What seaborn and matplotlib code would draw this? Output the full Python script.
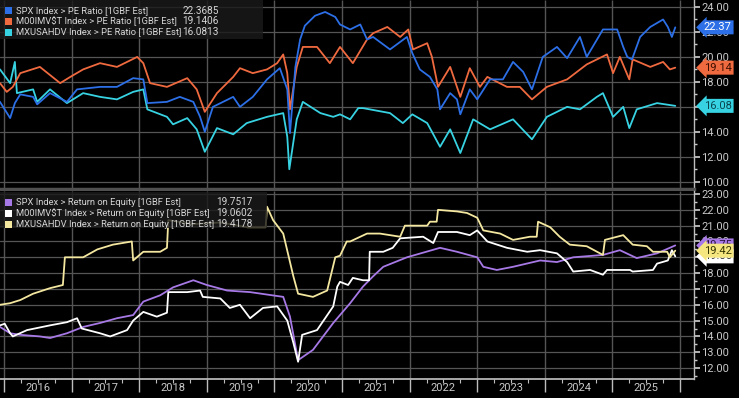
import numpy as np
import pandas as pd
import matplotlib
matplotlib.use("Agg")
import matplotlib.pyplot as plt
import matplotlib.transforms as mtrans
from matplotlib.patches import Rectangle
import seaborn as sns

# ---------------- data (decimal years, values) ----------------
spx_pe_t = [2015.94, 2016.09, 2016.16, 2016.24, 2016.43, 2016.49, 2016.68, 2016.93, 2017.08, 2017.42,
            2017.67, 2017.91, 2018.06, 2018.12, 2018.41, 2018.60, 2018.80, 2018.90, 2018.97, 2019.09,
            2019.39, 2019.49, 2019.68, 2019.89, 2020.08, 2020.19, 2020.23, 2020.31, 2020.38, 2020.45,
            2020.60, 2020.75, 2020.90, 2020.97, 2021.12, 2021.27, 2021.37, 2021.46, 2021.71, 2021.96,
            2022.04, 2022.15, 2022.30, 2022.41, 2022.45, 2022.60, 2022.70, 2022.75, 2022.89, 2023.00,
            2023.19, 2023.38, 2023.53, 2023.68, 2023.81, 2023.97, 2024.18, 2024.33, 2024.52, 2024.62,
            2024.86, 2025.07, 2025.16, 2025.22, 2025.29, 2025.41, 2025.56, 2025.75, 2025.82, 2025.88,
            2025.93]
spx_pe_v = [16.4, 15.1, 16.3, 17.0, 16.8, 16.2, 17.1, 16.4, 17.4, 17.6,
            17.6, 18.3, 18.2, 16.3, 16.4, 16.8, 16.4, 15.2, 14.0, 16.0,
            16.8, 16.0, 16.8, 18.2, 19.1, 17.4, 13.9, 19.2, 21.4, 22.5,
            23.3, 23.6, 23.2, 22.6, 22.2, 22.6, 21.4, 21.6, 20.6, 21.6,
            20.3, 19.0, 18.4, 17.4, 15.8, 17.1, 16.6, 15.4, 17.4, 16.6,
            18.2, 18.2, 19.6, 18.8, 17.4, 20.0, 20.8, 19.9, 21.6, 20.0,
            22.2, 22.2, 20.8, 20.0, 19.8, 21.6, 22.4, 23.0, 22.4, 21.6,
            22.37]

mv_pe_t = [2015.94, 2016.04, 2016.13, 2016.24, 2016.53, 2016.83, 2016.98, 2017.17, 2017.42, 2017.67,
           2017.97, 2018.06, 2018.16, 2018.41, 2018.71, 2018.85, 2018.97, 2019.15, 2019.39, 2019.49,
           2019.68, 2019.89, 2020.04, 2020.13, 2020.19, 2020.23, 2020.33, 2020.42, 2020.63, 2020.82,
           2020.97, 2021.16, 2021.37, 2021.46, 2021.67, 2021.86, 2021.98, 2022.05, 2022.26, 2022.33,
           2022.42, 2022.60, 2022.75, 2022.89, 2023.04, 2023.15, 2023.44, 2023.63, 2023.81, 2024.03,
           2024.33, 2024.62, 2024.92, 2025.01, 2025.11, 2025.25, 2025.30, 2025.56, 2025.75, 2025.85,
           2025.93]
mv_pe_v = [17.9, 17.2, 17.6, 18.7, 19.2, 17.9, 18.4, 19.0, 19.5, 19.2,
           20.0, 19.5, 17.9, 17.6, 18.3, 17.4, 15.6, 17.1, 18.4, 19.1,
           18.7, 19.0, 19.5, 20.2, 18.7, 15.8, 19.2, 20.8, 20.8, 19.5,
           20.8, 19.5, 21.4, 21.9, 22.4, 21.6, 22.2, 20.6, 21.1, 20.0,
           17.6, 19.2, 16.8, 19.1, 17.6, 18.4, 17.6, 17.6, 16.6, 17.6,
           18.2, 19.4, 20.2, 18.7, 20.0, 18.2, 19.8, 19.2, 19.6, 19.0,
           19.14]

hdv_pe_t = [2015.94, 2016.09, 2016.16, 2016.19, 2016.43, 2016.49, 2016.68, 2016.93, 2017.17, 2017.42,
            2017.67, 2017.91, 2018.06, 2018.12, 2018.41, 2018.50, 2018.71, 2018.85, 2018.97, 2019.15,
            2019.39, 2019.59, 2019.89, 2020.13, 2020.19, 2020.22, 2020.33, 2020.42, 2020.68, 2020.87,
            2020.97, 2021.12, 2021.24, 2021.31, 2021.71, 2021.90, 2022.04, 2022.26, 2022.45, 2022.60,
            2022.75, 2022.94, 2023.19, 2023.53, 2023.81, 2024.03, 2024.33, 2024.52, 2024.77, 2024.86,
            2025.01, 2025.16, 2025.25, 2025.36, 2025.66, 2025.93]
hdv_pe_v = [19.0, 17.9, 19.6, 17.1, 17.4, 16.4, 17.4, 16.3, 17.1, 16.8,
            16.6, 17.2, 17.4, 15.8, 15.2, 14.6, 15.1, 14.2, 12.4, 14.3,
            13.8, 14.7, 15.2, 15.5, 13.6, 11.0, 15.0, 16.4, 15.5, 15.2,
            15.4, 15.0, 15.9, 15.9, 15.5, 14.7, 15.4, 14.7, 12.8, 14.2,
            12.3, 15.0, 14.2, 15.0, 13.4, 15.2, 16.0, 15.8, 16.8, 17.1,
            15.2, 16.0, 14.3, 15.8, 16.3, 16.08]

spx_roe_t = [2015.94, 2016.09, 2016.24, 2016.53, 2016.68, 2016.93, 2017.17, 2017.42, 2017.67, 2017.91,
             2018.06, 2018.31, 2018.50, 2018.80, 2019.00, 2019.30, 2019.64, 2020.13, 2020.23, 2020.35,
             2020.57, 2020.87, 2020.97, 2021.12, 2021.31, 2021.46, 2021.61, 2021.96, 2022.45, 2022.70,
             2023.00, 2023.09, 2023.29, 2023.53, 2023.93, 2024.18, 2024.42, 2024.86, 2025.11, 2025.36,
             2025.66, 2025.93]
spx_roe_v = [14.6, 14.2, 14.1, 14.0, 13.9, 14.2, 14.6, 14.85, 15.15, 15.35,
             16.2, 16.6, 17.1, 17.55, 17.25, 16.9, 16.8, 16.5, 15.25, 12.5,
             13.15, 14.85, 15.35, 16.1, 17.15, 17.8, 18.4, 19.0, 19.6, 19.35,
             19.0, 18.4, 18.2, 18.4, 18.8, 18.7, 19.0, 19.15, 19.45, 18.95,
             19.25, 19.75]

mv_roe_t = [2015.94, 2016.01, 2016.09, 2016.13, 2016.34, 2016.68, 2016.93, 2017.08, 2017.15, 2017.42,
            2017.57, 2017.82, 2017.91, 2018.06, 2018.26, 2018.41, 2018.43, 2018.71, 2018.90, 2018.94,
            2019.20, 2019.34, 2019.49, 2019.64, 2019.83, 2020.04, 2020.19, 2020.28, 2020.35, 2020.41,
            2020.63, 2020.87, 2020.93, 2020.97, 2021.09, 2021.16, 2021.31, 2021.40, 2021.41, 2021.61,
            2021.75, 2021.86, 2022.20, 2022.35, 2022.42, 2022.70, 2022.89, 2023.00, 2023.15, 2023.44,
            2023.74, 2023.93, 2024.18, 2024.33, 2024.42, 2024.67, 2024.86, 2024.92, 2025.26, 2025.30,
            2025.60, 2025.66, 2025.82, 2025.88, 2025.93]
mv_roe_v = [14.7, 14.8, 14.2, 14.0, 14.4, 14.7, 14.9, 15.15, 14.5, 14.2,
            14.0, 14.4, 15.0, 15.55, 15.25, 15.5, 16.8, 16.8, 16.9, 16.5,
            16.4, 15.8, 16.0, 15.15, 15.8, 15.9, 15.0, 13.6, 12.4, 14.1,
            14.4, 15.9, 17.15, 17.45, 17.25, 17.7, 17.55, 17.55, 19.35, 19.35,
            19.6, 20.2, 20.3, 19.9, 20.6, 20.6, 20.4, 20.7, 20.0, 19.6,
            19.35, 19.45, 19.25, 18.7, 18.1, 18.2, 17.9, 18.2, 18.2, 18.1,
            18.2, 18.6, 18.8, 19.45, 19.06]

hdv_roe_t = [2015.94, 2016.09, 2016.24, 2016.43, 2016.68, 2016.87, 2016.90, 2017.17, 2017.38, 2017.61,
             2017.89, 2017.91, 2018.06, 2018.31, 2018.41, 2018.43, 2018.80, 2019.20, 2019.60, 2019.87,
             2019.89, 2019.98, 2020.13, 2020.28, 2020.35, 2020.57, 2020.78, 2020.90, 2020.97, 2021.07,
             2021.12, 2021.37, 2021.56, 2021.86, 2021.93, 2022.26, 2022.30, 2022.40, 2022.42, 2022.70,
             2022.85, 2023.00, 2023.09, 2023.34, 2023.53, 2023.78, 2023.88, 2023.90, 2024.08, 2024.22,
             2024.37, 2024.62, 2024.86, 2024.89, 2025.16, 2025.30, 2025.51, 2025.60, 2025.81, 2025.85,
             2025.93]
hdv_roe_v = [16.0, 16.1, 16.3, 16.7, 17.05, 17.25, 19.0, 19.0, 19.5, 19.8,
             20.0, 18.8, 19.35, 19.35, 19.6, 21.35, 21.1, 21.2, 20.9, 20.9,
             22.2, 21.35, 20.5, 17.8, 16.7, 16.5, 16.9, 19.0, 19.1, 20.0,
             20.0, 20.5, 20.5, 20.3, 21.0, 21.0, 21.25, 21.25, 22.0, 21.9,
             21.8, 21.5, 20.7, 20.5, 20.1, 20.3, 20.3, 21.25, 20.9, 20.3,
             19.8, 19.7, 19.15, 20.1, 20.4, 19.8, 19.7, 19.35, 19.35, 19.0,
             19.42]

pe_names = ["SPX Index > PE Ratio [1GBF Est]",
            "M00IMV$T Index > PE Ratio [1GBF Est]",
            "MXUSAHDV Index > PE Ratio [1GBF Est]"]
pe_last = ["22.3685", "19.1406", "16.0813"]
pe_tags = ["22.37", "19.14", "16.08"]
roe_names = ["SPX Index > Return on Equity [1GBF Est]",
             "M00IMV$T Index > Return on Equity [1GBF Est]",
             "MXUSAHDV Index > Return on Equity [1GBF Est]"]
roe_last = ["19.7517", "19.0602", "19.4178"]
roe_tags = ["19.75", "19.06", "19.42"]
years = list(range(2016, 2026))

# ---------------- styling ----------------
sns.set_theme(style="dark", rc={"xtick.bottom": True, "ytick.right": True})
plt.rcParams['font.family'] = ['Roboto', 'DejaVu Sans']

W, H = 739, 398
fig = plt.figure(figsize=(W / 100, H / 100), dpi=100, facecolor="black")

def fr(x0, y0, x1, y1):
    return [x0 / W, 1 - y1 / H, (x1 - x0) / W, (y1 - y0) / H]

ax1 = fig.add_axes(fr(0, 0, 694, 189))
ax2 = fig.add_axes(fr(0, 191, 694, 379))

pe_colors = ["#2c6fe6", "#f06a40", "#38d3e3"]
roe_colors = ["#a779e6", "#ffffff", "#f4e7a0"]
grid_c = "#555555"
tick_c = "#c9c9c9"

def draw(ax, t, v, c, z):
    sns.lineplot(x=t, y=v, ax=ax, color=c, lw=1.3, sort=False, estimator=None, zorder=z)

draw(ax1, hdv_pe_t, hdv_pe_v, pe_colors[2], 3)
draw(ax1, mv_pe_t, mv_pe_v, pe_colors[1], 4)
draw(ax1, spx_pe_t, spx_pe_v, pe_colors[0], 5)
draw(ax2, spx_roe_t, spx_roe_v, roe_colors[0], 3)
draw(ax2, mv_roe_t, mv_roe_v, roe_colors[1], 4)
draw(ax2, hdv_roe_t, hdv_roe_v, roe_colors[2], 5)

ax1.set_ylim(9.42, 24.56)
ax2.set_ylim(11.31, 23.19)

xlim = (2015.94, 2016 + (694 - 4) / 67.6)
for ax in (ax1, ax2):
    ax.set_facecolor("black")
    ax.set_xlim(*xlim)
    ax.set_xlabel("")
    ax.set_ylabel("")
    for s in ("left", "top"):
        ax.spines[s].set_visible(False)
    ax.spines["right"].set_color("#bdbdbd")
    ax.spines["right"].set_linewidth(1.0)
    ax.yaxis.tick_right()
    ax.tick_params(axis="y", which="both", right=True, left=False)
    ax.tick_params(axis="y", which="major", colors=tick_c, labelsize=8, length=4, direction="out", pad=1)
    ax.tick_params(axis="y", which="minor", colors=tick_c, length=2, direction="out")
    ax.yaxis.grid(True, which="major", color=grid_c, lw=0.9)
    lo, hi = ax.get_ylim()
    ax.vlines(years + [2026], lo, hi, colors=grid_c, lw=1.0, zorder=2.4)

ax1.set_yticks(np.arange(10, 25, 2))
ax1.set_yticks(np.arange(11, 25, 2), minor=True)
ax1.yaxis.set_major_formatter(matplotlib.ticker.FormatStrFormatter("%.2f"))
ax1.spines["bottom"].set_color("#505050")
ax1.spines["bottom"].set_linewidth(2.5)
ax1.tick_params(axis="x", which="both", bottom=False, length=0, labelbottom=False)

ax2.set_yticks(np.arange(12, 24, 1))
ax2.set_yticks(np.arange(11.5, 23.5, 1), minor=True)
ax2.yaxis.set_major_formatter(matplotlib.ticker.FormatStrFormatter("%.2f"))
ax2.spines["bottom"].set_color("#bdbdbd")
ax2.set_xticks(years + [2026])
ax2.set_xticks(np.arange(2016, 2026.01, 0.25), minor=True)
ax2.tick_params(axis="x", which="both", bottom=True)
ax2.tick_params(axis="x", which="major", colors="#bdbdbd", length=9, width=1, labelbottom=False)
ax2.tick_params(axis="x", which="minor", colors="#bdbdbd", length=3, width=0.8)
bt = mtrans.blended_transform_factory(ax2.transData, ax2.transAxes)
for yr in years:
    ax2.text(yr + 0.5, -0.05, str(yr), transform=bt, ha="center", va="center",
             color=tick_c, fontsize=8)

# value tags on right axis
def tag(ax, val, txt, fc, tc, z):
    tr = mtrans.blended_transform_factory(ax.transAxes, ax.transData)
    ax.text(1.014, val, txt, transform=tr, ha="left", va="center", fontsize=8, color=tc,
            bbox=dict(boxstyle="larrow,pad=0.18", fc=fc, ec="none"), zorder=z, clip_on=False)

tag(ax1, 22.37, pe_tags[0], pe_colors[0], "white", 10)
tag(ax1, 19.14, pe_tags[1], pe_colors[1], "#3a0e00", 10)
tag(ax1, 16.08, pe_tags[2], pe_colors[2], "#0b4650", 10)
tag(ax2, 19.75, roe_tags[0], roe_colors[0], "#2a1040", 10)
tag(ax2, 19.06, roe_tags[1], roe_colors[1], "#333333", 11)
tag(ax2, 19.42, roe_tags[2], "#f5e680", "#333300", 12)

# legends (figure pixel coordinates)
def legend(top, bottom, right, names, vals, colors, val_x):
    fig.patches.append(Rectangle((0, 1 - bottom / H), right / W, (bottom - top) / H,
                                 transform=fig.transFigure, fc="#1a1a1a", ec="none",
                                 alpha=0.82, zorder=5))
    for i, (n, v, c) in enumerate(zip(names, vals, colors)):
        yc = top + 10.5 + i * 10.8
        fig.patches.append(Rectangle((5 / W, 1 - (yc + 3.5) / H), 7 / W, 7 / H,
                                     transform=fig.transFigure, fc=c, ec="none", zorder=6))
        fig.text(16 / W, 1 - yc / H, n, ha="left", va="center", fontsize=6.75,
                 color="#d6d6d6", zorder=6)
        fig.text(val_x / W, 1 - yc / H, v, ha="right", va="center", fontsize=7.2,
                 color="#d6d6d6", zorder=6)

legend(0, 39, 263, pe_names, pe_last, pe_colors, 219)
legend(192, 228, 267, roe_names, roe_last, roe_colors, 253)

fig.savefig("out.png", dpi=100, facecolor="black")
